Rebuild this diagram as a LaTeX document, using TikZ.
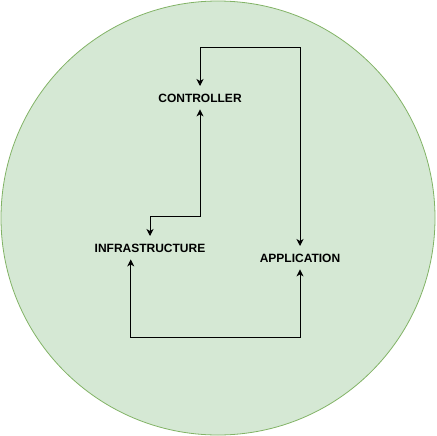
\documentclass[tikz,border=0pt]{standalone}
\usepackage{fontspec}
\setmainfont{Liberation Sans}
\usetikzlibrary{arrows.meta}
\definecolor{circfill}{HTML}{D5E8D4}
\definecolor{circline}{HTML}{82B366}
\begin{document}
\begin{tikzpicture}[x=1pt,y=-1pt,
  lbl/.style={font=\bfseries\fontsize{12}{12}\selectfont, inner sep=0pt, minimum height=23pt, text height=8.6pt, text depth=0pt},
  conn/.style={line width=1pt, {Stealth[length=7pt,width=7pt,inset=2pt]}-{Stealth[length=7pt,width=7pt,inset=2pt]}}]
\useasboundingbox (0,0) rectangle (436,436);
\node[circle, draw=circline, fill=circfill, line width=0.8pt, minimum size=434pt, inner sep=0pt] (bg) at (218,218) {};
\node[lbl] (ctrl) at (200,97.7) {CONTROLLER};
\node[lbl] (infra) at (150,247.7) {INFRASTRUCTURE};
\node[lbl] (app) at (300,257.7) {APPLICATION};
\draw[conn] (app.north) -- (app.north |- 0,47.3) -| (ctrl.north);
\draw[conn] (ctrl.south) -- (ctrl.south |- 0,216.7) -| (infra.north);
\draw[conn] ([xshift=-19.3pt]infra.south) -- ([xshift=-19.3pt]infra.south |- 0,337.3) -| (app.south);
\end{tikzpicture}
\end{document}
